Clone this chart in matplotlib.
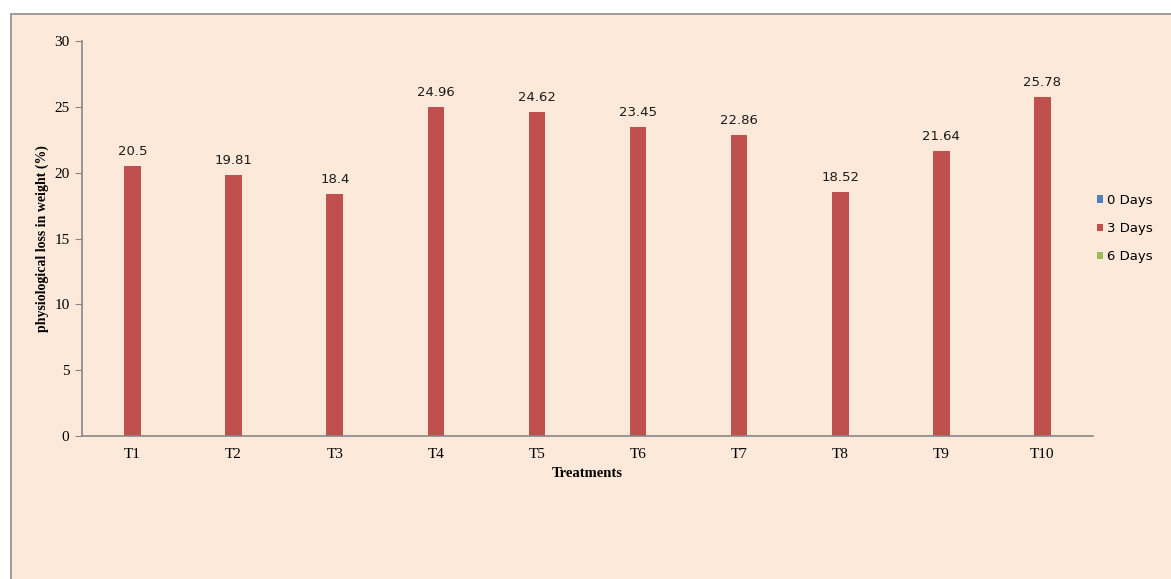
import numpy as np
import matplotlib.pyplot as plt
from matplotlib.patches import Rectangle

# weight loss per treatment
treatments = ["T1", "T2", "T3", "T4", "T5", "T6", "T7", "T8", "T9", "T10"]
days_0 = [0, 0, 0, 0, 0, 0, 0, 0, 0, 0]
days_3 = [20.5, 19.81, 18.4, 24.96, 24.62, 23.45, 22.86, 18.52, 21.64, 25.78]
days_6 = [0, 0, 0, 0, 0, 0, 0, 0, 0, 0]

bg = "#fde9da"
colors = ["#4f81bd", "#c0504d", "#9bbb59"]

fig = plt.figure(figsize=(11.71, 5.79), dpi=100, facecolor="white")
fig.patches.append(Rectangle((11 / 1171, -0.05), 1.1, 0.05 + 1 - 14 / 579,
                             transform=fig.transFigure, facecolor=bg,
                             edgecolor="#8c8c8c", linewidth=1.2, zorder=-10))

ax = fig.add_axes([82 / 1171, 1 - 436 / 579, (1093 - 82) / 1171, (436 - 41) / 579])
ax.set_facecolor("none")

x = np.arange(len(treatments))
w = 0.165
labels = ["0 Days", "3 Days", "6 Days"]
for i, vals in enumerate([days_0, days_3, days_6]):
    ax.bar(x + (i - 1) * w, vals, width=w, color=colors[i], label=labels[i])

for xi, v in zip(x, days_3):
    ax.text(xi, v + 0.6, f"{v:g}", ha="center", va="bottom",
            fontsize=9.5, family="DejaVu Sans", color="#1a1a1a")

ax.set_xlim(-0.5, len(treatments) - 0.5)
ax.set_ylim(0, 30)
ax.set_yticks(range(0, 31, 5))
ax.set_xticks(x)
ax.set_xticklabels(treatments)

for side in ["top", "right"]:
    ax.spines[side].set_visible(False)
for side in ["left", "bottom"]:
    ax.spines[side].set_color("#868686")
    ax.spines[side].set_linewidth(1.2)
ax.tick_params(axis="y", length=5, color="#868686", labelsize=11, pad=4)
ax.tick_params(axis="x", length=0, labelsize=11, pad=9)
for lbl in ax.get_xticklabels() + ax.get_yticklabels():
    lbl.set_family("Liberation Serif")

ax.set_xlabel("Treatments", family="Liberation Serif", fontweight="bold",
              fontsize=10.5, labelpad=4)
ax.set_ylabel("physiological loss in weight (%)", family="Liberation Serif",
              fontweight="bold", fontsize=10, labelpad=4)

leg = ax.legend(loc="upper left", bbox_to_anchor=(0.992, 0.643), frameon=False,
                handlelength=0.5, handleheight=0.5, handletextpad=0.3,
                labelspacing=1.15, prop={"family": "DejaVu Sans", "size": 9.5})

fig.savefig("out.png", dpi=100, facecolor=fig.get_facecolor())
